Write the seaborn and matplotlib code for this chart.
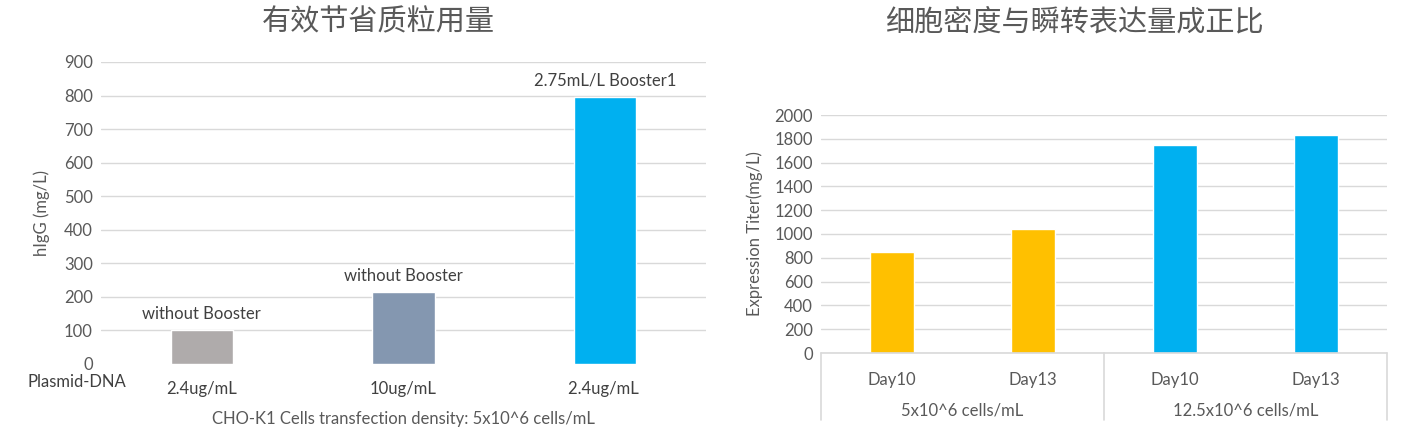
import numpy as np
import pandas as pd
import seaborn as sns
from matplotlib import pyplot as plt

# left chart data
left_cats = ["2.4ug/mL", "10ug/mL", "2.4ug/mL "]
left_vals = [100, 215, 795]
left_notes = ["without Booster", "without Booster", "2.75mL/L Booster1"]
left_colors = ["#AFABAB", "#8497B0", "#00B0F0"]

# right chart data
right_days = ["Day10", "Day13", "Day10", "Day13"]
right_groups = ["5x10^6 cells/mL", "12.5x10^6 cells/mL"]
right_vals = [845, 1045, 1750, 1830]
right_colors = ["#FFC000", "#FFC000", "#00B0F0", "#00B0F0"]

sns.set_style("white")
plt.rcParams['font.family'] = ['Lato', 'Noto Sans CJK SC', 'DejaVu Sans']
txt = "#595959"
grid = "#D9D9D9"

fig = plt.figure(figsize=(14.06, 4.43), dpi=100)
W, H = 1406, 443

# ---------- left ----------
ax1 = fig.add_axes([101 / W, (H - 364) / H, 605 / W, 302 / H])
df1 = pd.DataFrame({"cat": left_cats, "val": left_vals})
sns.barplot(data=df1, x="cat", y="val", hue="cat", palette=left_colors,
            width=0.31, saturation=1, legend=False, ax=ax1)
ax1.set_xlim(-0.5, 2.5)
ax1.set_ylim(0, 900)
ax1.set_yticks(range(0, 901, 100))
ax1.yaxis.grid(True, color=grid, lw=1)
ax1.set_axisbelow(True)
ax1.get_ygridlines()[0].set_visible(False)
for s in ax1.spines.values():
    s.set_visible(False)
ax1.tick_params(axis="y", length=0, labelsize=12, labelcolor=txt, pad=6)
ax1.tick_params(axis="x", length=0, labelsize=12, labelcolor="#404040", pad=12)
ax1.set_xlabel("CHO-K1 Cells transfection density: 5x10^6 cells/mL",
               fontsize=12, color=txt, labelpad=10)
ax1.set_ylabel("hIgG (mg/L)", fontsize=12, color=txt, labelpad=10)
for i, (v, n) in enumerate(zip(left_vals, left_notes)):
    ax1.annotate(n, (i, v), xytext=(0, 6), textcoords="offset points",
                 ha="center", va="bottom", fontsize=12, color="#404040")
ax1.text(-0.04, -0.06, "Plasmid-DNA", transform=ax1.transAxes,
         ha="center", va="center", fontsize=12, color="#404040")

# ---------- right ----------
ax2 = fig.add_axes([821 / W, (H - 353) / H, 566 / W, 238 / H])
keys = [f"{g}|{d}" for g in right_groups for d in ["Day10", "Day13"]]
df2 = pd.DataFrame({"key": keys, "val": right_vals})
sns.barplot(data=df2, x="key", y="val", hue="key", palette=right_colors,
            width=0.31, saturation=1, legend=False, ax=ax2)
ax2.set_ylim(0, 2000)
ax2.set_yticks(range(0, 2001, 200))
ax2.yaxis.grid(True, color=grid, lw=1)
ax2.set_axisbelow(True)
for s in ax2.spines.values():
    s.set_visible(False)
ax2.set_xticks(range(len(right_days)))
ax2.set_xticklabels(right_days)
ax2.tick_params(axis="y", length=0, labelsize=12, labelcolor=txt, pad=6)
ax2.tick_params(axis="x", length=0, labelsize=12, labelcolor=txt, pad=14)
ax2.set_xlabel("")
ax2.set_ylabel("Expression Titer(mg/L)", fontsize=12, color=txt, labelpad=8)
depth = (420 - 353) / 238
for xf in [0, 0.5, 1]:
    ax2.plot([xf, xf], [0, -depth], transform=ax2.transAxes, color=grid,
             lw=1.2, clip_on=False, scalex=False, scaley=False)
ax2.plot([0, 1], [0, 0], transform=ax2.transAxes, color=grid, lw=1.2,
         clip_on=False, scalex=False, scaley=False)
for j, g in enumerate(right_groups):
    ax2.text(0.25 + 0.5 * j, -(410 - 353) / 238, g, transform=ax2.transAxes,
             ha="center", va="center", fontsize=12, color=txt)
ax2.set_xlim(-0.5, 3.5)
ax2.set_ylim(0, 2000)

# titles
fig.text(378 / W, 1 - 22 / H, "有效节省质粒用量", fontsize=21, color=txt,
         ha="center", va="center")
fig.text(1074 / W, 1 - 22 / H, "细胞密度与瞬转表达量成正比", fontsize=21,
         color=txt, ha="center", va="center")

fig.savefig("out.png", dpi=100)
